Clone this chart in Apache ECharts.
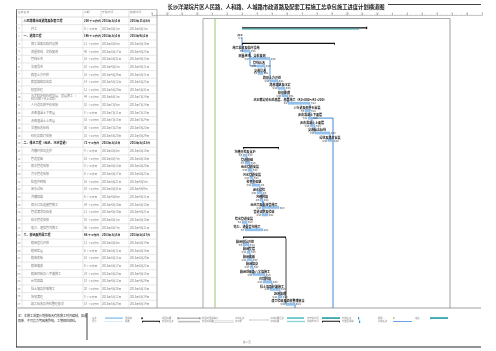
<!DOCTYPE html>
<html>
<head>
<meta charset="utf-8">
<script src="https://cdn.jsdelivr.net/npm/echarts@6/dist/echarts.min.js"></script>
<style>
html,body{margin:0;padding:0;background:#fff}
#main{width:496px;height:351px}
</style>
</head>
<body>
<div id="main"></div>
<script>
// 任务名称
var rowNames = [
  '人民路等市政道路及配套工程',
  '开工',
  '一、道路工程',
  '施工准备及临时设施',
  '测量放线、交桩复测',
  '管线迁改',
  '交通导改',
  '路基土方开挖',
  '路基填筑及压实',
  '软基处理',
  '水泥稳定碎石底基层、基层施工（K0+000～K1+200）',
  '人行道及侧平石安装',
  '沥青混凝土下面层',
  '沥青混凝土上面层',
  '交通标志标线',
  '绿化及路灯安装',
  '二、排水工程（雨水、污水管道）',
  '沟槽开挖及支护',
  '管道基础',
  '雨水管道安装',
  '污水管道安装',
  '检查井砌筑',
  '闭水试验',
  '沟槽回填',
  '雨水口及连接管施工',
  '管道清淤及验收',
  '给水管道安装',
  '电力、通信管沟施工',
  '三、桥涵及附属工程',
  '箱涵基坑开挖',
  '箱涵垫层',
  '箱涵底板',
  '箱涵墙身',
  '箱涵顶板及八字墙施工',
  '台背回填',
  '挡土墙及护坡施工',
  '场地清理',
  '竣工验收及资料整理移交'
];
var rowTypes = ['project', 'milestone', 'summary',
  'task', 'task', 'task', 'task', 'task', 'task', 'task', 'task', 'task', 'task', 'task', 'task', 'task',
  'summary',
  'task', 'task', 'task', 'task', 'task', 'task', 'task', 'task', 'task', 'task', 'task',
  'summary',
  'task', 'task', 'task', 'task', 'task', 'task', 'task', 'task', 'task'];
// 开始（距开工天数）与工期（天）
var startDay = [0, 0, 0, 4, 16, 30, 32, 56, 72, 80, 92, 126, 132, 136, 146, 172,
  2, 2, 6, 12, 16, 20, 30, 36, 40, 40, 0, 6,
  2, 2, 10, 10, 16, 22, 42, 56, 72, 88];
var durDays = [250, 0, 186, 12, 40, 16, 10, 16, 14, 12, 44, 10, 8, 10, 30, 10,
  72, 8, 10, 8, 6, 16, 10, 6, 34, 12, 10, 36,
  86, 12, 6, 10, 6, 24, 18, 20, 8, 18];
var projectDone = 234;
var linkPairs = [[1, 3], [3, 4], [4, 7], [3, 5], [5, 6], [7, 8], [8, 9], [9, 10], [10, 11], [11, 12], [12, 13], [13, 14], [14, 15],
  [17, 18], [18, 19], [19, 20], [20, 21], [21, 22], [22, 23], [23, 24], [23, 25], [26, 27],
  [29, 30], [30, 31], [31, 32], [32, 33], [33, 34], [34, 35], [35, 36], [28, 37]];
var openLinks = [[12, 182], [37, 106]];
var todayDay = -54;
var rulerLabels = ['9', '10', '11', '12', '1', '2', '3', '4', '5', '6', '7', '8', '9', '10', '11', '12', '1', '2', '3', '4', '5', '6', '7'];
var headerTexts = ['任务名称', '工期', '开始时间', '完成时间'];
var legendLabels = [['任务', '拆分'], ['里程碑', '摘要'], ['项目摘要', '非活动任务'], ['非活动里程碑', '非活动摘要'],
  ['手动任务', '仅工期'], ['手动摘要汇总', '手动摘要'], ['仅开始时间', '仅完成时间'], ['外部任务', '外部里程碑'],
  ['期限', '关键任务'], ['进度', '']];

var FONT = '"Noto Sans CJK SC", sans-serif';
var colEdges = [0, 6, 67, 85, 113, 141];
var rowIds = rowNames.map(function (n, i) { return String(i); });

function dayText(d, full) {
  var t = new Date(Date.UTC(2013, 2, 1) + d * 86400000);
  if (full) return t.getUTCFullYear() + '年' + (t.getUTCMonth() + 1) + '月' + t.getUTCDate() + '日';
  return (t.getUTCMonth() + 1) + '/' + t.getUTCDate();
}
function txt(x, y, s, size, color, align, va, weight) {
  return { type: 'text', x: x, y: y, style: { text: s, fontSize: size, fontFamily: FONT, fill: color,
    align: align || 'left', verticalAlign: va || 'middle', fontWeight: weight || 'normal' } };
}
function ln(x1, y1, x2, y2, color, w) {
  return { type: 'line', shape: { x1: x1, y1: y1, x2: x2, y2: y2 }, style: { stroke: color, lineWidth: w } };
}

// 表格行
function renderTableRow(params, api) {
  var i = api.value(1);
  var h = api.size([0, 1])[1];
  var yc = api.coord([0, i])[1];
  var xs = colEdges.map(function (c) { return api.coord([c, i])[0]; });
  var type = rowTypes[i];
  var bold = type === 'project' || type === 'summary';
  var color = bold ? '#111' : '#808080';
  var w = bold ? 'bold' : 'normal';
  var endDay = startDay[i] + durDays[i] - (durDays[i] > 0 ? 1 : 0);
  var kids = [ln(xs[0], yc + h / 2, xs[5], yc + h / 2, '#cfcfcf', 0.5)];
  for (var k = 1; k < 5; k++) kids.push(ln(xs[k], yc - h / 2, xs[k], yc + h / 2, '#cfcfcf', 0.5));
  if (i > 0) kids.push(txt((xs[0] + xs[1]) / 2, yc, String(i), 2.6, '#888', 'center'));
  var nx = xs[1] + (bold || i === 0 ? 1.5 : 9);
  var name = txt(nx, yc, rowNames[i], 3, color, 'left', 'middle', w);
  name.style.width = xs[2] - nx - 1;
  name.style.overflow = 'break';
  name.style.lineHeight = 3.4;
  kids.push(name);
  kids.push(txt(xs[2] + 1, yc, durDays[i] + ' 个工作日', 2.8, color, 'left', 'middle', w));
  kids.push(txt(xs[3] + 1, yc, dayText(startDay[i], true), 2.8, color, 'left', 'middle', w));
  kids.push(txt(xs[4] + 1, yc, dayText(endDay, true), 2.8, color, 'left', 'middle', w));
  return { type: 'group', children: kids };
}

// 横道
function renderBar(params, api) {
  var s = api.value(0), i = api.value(1), e = api.value(2);
  var p0 = api.coord([s, i]), p1 = api.coord([e, i]);
  var y = p0[1], type = rowTypes[i];
  var kids = [];
  if (type === 'project') {
    var pp = api.coord([projectDone, i]);
    kids.push({ type: 'rect', shape: { x: p0[0], y: y - 1.5, width: p1[0] - p0[0], height: 1.2 }, style: { fill: '#111' } });
    kids.push({ type: 'rect', shape: { x: p0[0], y: y - 0.2, width: pp[0] - p0[0], height: 1.1 }, style: { fill: '#2aa3a8' } });
    kids.push({ type: 'rect', shape: { x: p1[0] - 1, y: y - 2, width: 1.2, height: 2.2 }, style: { fill: '#111' } });
  } else if (type === 'summary') {
    kids.push({ type: 'polygon', shape: { points: [[p0[0], y - 0.8], [p1[0], y - 0.8], [p1[0], y + 1.8], [p1[0] - 1, y + 0.4],
      [p0[0] + 1, y + 0.4], [p0[0], y + 1.8]] }, style: { fill: '#111' } });
  } else if (type === 'milestone') {
    kids.push(txt(p0[0] - 2, y - 1.5, rowNames[i], 2.8, '#111', 'center', 'middle', 'bold'));
    kids.push(txt(p0[0] - 2, y + 1.5, dayText(s), 2.4, '#333', 'center'));
  } else {
    kids.push({ type: 'rect', shape: { x: p0[0], y: y - 1.2, width: Math.max(p1[0] - p0[0], 1), height: 2.4 },
      style: { fill: '#93c2ee', stroke: '#7ab2e6', lineWidth: 0.3 } });
    kids.push(txt(p0[0] + 2, y - 1.5, rowNames[i], 3, '#111', 'center', 'bottom', 'bold'));
    kids.push(txt(p0[0] - 0.8, y + 0.2, dayText(s), 2.3, '#222', 'right'));
    kids.push(txt(p1[0] + 0.8, y + 0.2, dayText(e - 1), 2.3, '#222', 'left'));
  }
  return { type: 'group', children: kids };
}

// 任务连线
function renderLink(params, api) {
  var x = api.value(0), a = api.value(1), b = api.value(2);
  var pa = api.coord([x, a]), pb = api.coord([x, b]);
  var sb = api.coord([startDay[b], b]);
  var pts = [[pa[0], pa[1] + 1.1], [pa[0], pb[1]]];
  if (sb[0] > pa[0] + 0.3) pts.push([sb[0], pb[1]]);
  var black = rowTypes[a] === 'summary';
  return { type: 'polyline', shape: { points: pts }, style: { stroke: black ? '#111' : '#2b7bd6', lineWidth: 0.8, fill: null } };
}
function renderOpenLink(params, api) {
  var x = api.value(0), a = api.value(1), t = api.value(2);
  var pa = api.coord([x, a]), pt = api.coord([t, a]);
  var bottom = params.coordSys.y + params.coordSys.height;
  return { type: 'polyline', shape: { points: [[pa[0], pa[1]], [pt[0], pa[1]], [pt[0], bottom]] },
    style: { stroke: '#2b7bd6', lineWidth: 0.9, fill: null } };
}
function renderToday(params, api) {
  var p = api.coord([api.value(0), 0]);
  var cs = params.coordSys;
  return ln(p[0], cs.y - 6.5, p[0], cs.y + cs.height, '#9bc56a', 1);
}

// 固定框线、表头、标题、图例
var g = [];
g.push(txt(276, 7, '长沙洋湖垸片区人民路、人和路、人城路市政道路及配套工程施工总承包施工进度计划横道图', 5.3, '#1a1a1a', 'center', 'middle', 'bold'));
g.push(ln(388, 4.5, 481, 4.5, '#111', 0.8));
g.push(ln(16, 9.5, 157, 9.5, '#999', 0.6));
g.push(ln(16, 17, 157, 17, '#bbb', 0.5));
g.push(ln(16.5, 9.5, 16.5, 347, '#444', 0.8));
g.push(ln(157, 9.5, 157, 308, '#888', 0.7));
g.push(ln(83, 9.5, 83, 17, '#bbb', 0.5));
g.push(ln(101, 9.5, 101, 17, '#bbb', 0.5));
g.push(ln(129, 9.5, 129, 17, '#bbb', 0.5));
g.push(txt(18, 11.5, headerTexts[0], 2.8, '#888'));
g.push(txt(84, 11.5, headerTexts[1], 2.8, '#888'));
g.push(txt(102, 11.5, headerTexts[2], 2.8, '#888'));
g.push(txt(130, 11.5, headerTexts[3], 2.8, '#888'));
g.push(ln(203, 18.5, 450, 18.5, '#888', 0.7));
g.push(ln(203, 18.5, 203, 308, '#888', 0.7));
g.push(ln(450, 18.5, 450, 308, '#888', 0.8));
g.push(ln(16, 308, 481, 308, '#888', 0.8));
g.push(ln(16, 347, 481, 347, '#111', 0.9));
g.push(ln(87, 313, 87, 340, '#111', 0.8));
g.push(txt(18, 316, '注：本施工进度计划按每天有效施工时间编制，如遇', 3, '#333'));
g.push(txt(18, 321, '雨季、不可抗力等因素影响，工期相应顺延。', 3, '#333'));
g.push(txt(247, 342, '第 1 页', 2.6, '#777', 'center'));
var lx = [92, 125, 162, 202, 235, 270, 307, 342, 378, 415];
legendLabels.forEach(function (p, k) {
  g.push(txt(lx[k], 318, p[0], 2.3, '#888'));
  g.push(txt(lx[k], 321.5, p[1], 2.3, '#888'));
});
function rc(x, y, w, h, fill, stroke) {
  return { type: 'rect', shape: { x: x, y: y, width: w, height: h }, style: { fill: fill || 'none', stroke: stroke || null, lineWidth: 0.4 } };
}
g.push(rc(105, 317.3, 18, 1.6, '#9ccbf2'));
g.push({ type: 'line', shape: { x1: 105, y1: 321.5, x2: 123, y2: 321.5 }, style: { stroke: '#9ccbf2', lineWidth: 0.6, lineDash: [1, 0.6] } });
g.push({ type: 'polygon', shape: { points: [[142, 317], [143.2, 318.2], [142, 319.4], [140.8, 318.2]] }, style: { fill: '#333' } });
g.push({ type: 'polygon', shape: { points: [[142, 320.8], [160, 320.8], [160, 323], [159, 321.8], [143, 321.8], [142, 323]] }, style: { fill: '#111' } });
g.push(ln(178, 318.2, 200, 318.2, '#333', 0.5));
g.push(ln(178, 317, 178, 319.4, '#333', 0.5));
g.push(ln(200, 317, 200, 319.4, '#333', 0.5));
g.push(rc(178, 320.8, 22, 1.6, '#bdbdbd'));
g.push({ type: 'polygon', shape: { points: [[217, 317], [218.2, 318.2], [217, 319.4], [215.8, 318.2]] }, style: { fill: 'none', stroke: '#999', lineWidth: 0.4 } });
g.push(rc(213, 320.8, 20, 1.6, '#fff', '#aaa'));
g.push(ln(250, 320, 268, 320, '#999', 0.5));
g.push(ln(250, 319, 250, 321, '#999', 0.5));
g.push(ln(268, 319, 268, 321, '#999', 0.5));
g.push(rc(287, 317.2, 17, 1.7, '#5cc5c9'));
g.push(rc(287, 320.8, 18, 1.4, '#8fd6d8'));
g.push(rc(322, 317.2, 18, 1.7, '#27a3a9'));
g.push({ type: 'polygon', shape: { points: [[322, 320.8], [340, 320.8], [340, 323], [339, 321.8], [323, 321.8], [322, 323]] }, style: { fill: '#111' } });
g.push(rc(358, 317, 1.2, 2.4, '#27a3a9'));
g.push(rc(359, 320.6, 1.2, 2.4, '#27a3a9'));
g.push(rc(393, 317.3, 1.4, 1.4, '#8dc63f'));
g.push(ln(393, 321.5, 412, 321.5, '#2b7bd6', 0.7));
g.push(rc(430, 317.2, 18, 1.7, '#27a3a9'));

var option = {
  animation: false,
  backgroundColor: '#fff',
  grid: [
    { left: 16, top: 17, width: 141, height: 291 },
    { left: 152, top: 25, width: 330, height: 283 }
  ],
  xAxis: [
    { gridIndex: 0, type: 'value', min: 0, max: 141, show: false },
    { gridIndex: 1, type: 'value', min: -180, max: 480, interval: 30, position: 'top', offset: 9.5,
      axisLine: { show: true, lineStyle: { color: '#999', width: 0.5 } },
      axisTick: { show: true, length: 2.5, lineStyle: { color: '#999', width: 0.5 } },
      minorTick: { show: true, splitNumber: 6, length: 1.2, lineStyle: { color: '#aaa', width: 0.4 } },
      axisLabel: { fontSize: 3, color: '#999', margin: 0.6, fontFamily: FONT,
        formatter: function (v) { return rulerLabels[Math.round((v + 180) / 30)] || ''; } },
      splitLine: { show: false }
    }
  ],
  yAxis: [
    { gridIndex: 0, type: 'category', data: rowIds, inverse: true, show: false },
    { gridIndex: 1, type: 'category', data: rowIds, inverse: true, show: false }
  ],
  graphic: g,
  series: [
    { type: 'custom', xAxisIndex: 0, yAxisIndex: 0, renderItem: renderTableRow, encode: { x: 0, y: 1 },
      data: rowNames.map(function (n, i) { return [0, i]; }) },
    { type: 'custom', xAxisIndex: 1, yAxisIndex: 1, renderItem: renderToday, encode: { x: 0, y: 1 },
      data: [[todayDay, 0]] },
    { type: 'custom', xAxisIndex: 1, yAxisIndex: 1, renderItem: renderLink, encode: { x: 0, y: 1 },
      data: linkPairs.map(function (p) { return [startDay[p[0]] + durDays[p[0]], p[0], p[1]]; }) },
    { type: 'custom', xAxisIndex: 1, yAxisIndex: 1, renderItem: renderOpenLink, encode: { x: 0, y: 1 },
      data: openLinks.map(function (p) { return [startDay[p[0]] + durDays[p[0]], p[0], p[1]]; }) },
    { type: 'custom', xAxisIndex: 1, yAxisIndex: 1, renderItem: renderBar, encode: { x: [0, 2], y: 1 },
      data: rowNames.map(function (n, i) { return [startDay[i], i, startDay[i] + durDays[i]]; }) }
  ]
};
var chart = echarts.init(document.getElementById('main'));
chart.setOption(option);
</script>
</body>
</html>
